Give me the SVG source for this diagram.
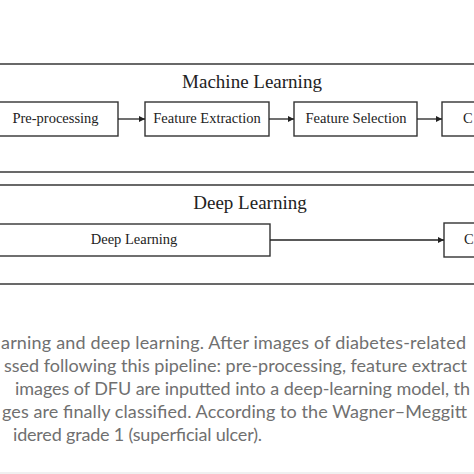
<svg xmlns="http://www.w3.org/2000/svg" width="474" height="474" viewBox="0 0 474 474">
<defs>
<marker id="arr" viewBox="0 0 10 10" refX="10" refY="5" markerWidth="9" markerHeight="6" markerUnits="userSpaceOnUse" orient="auto">
<path d="M0,0 L10,5 L0,10 z" fill="#222"/>
</marker>
<style>
.frame{fill:none;stroke:#444;stroke-width:1.6}
.box{fill:#fff;stroke:#333;stroke-width:1.4}
.lbl{font-family:"Liberation Serif","Times New Roman",serif;font-size:14.5px;fill:#222;text-anchor:middle}
.hdr{font-family:"Liberation Serif","Times New Roman",serif;font-size:19px;fill:#222;text-anchor:middle}
.cap{font-family:Lato,"Open Sans",sans-serif;font-size:18px;fill:#707070}
.con{stroke:#222;stroke-width:1.3;fill:none;marker-end:url(#arr)}
</style>
</defs>
<rect width="474" height="474" fill="#fff"/>
<rect x="0" y="472" width="474" height="2" fill="#f0f0f0"/>

<g id="ml-frame">
<rect class="frame" x="-10" y="64" width="494" height="108"/>
<text class="hdr" x="252" y="88">Machine Learning</text>
</g>
<g id="dl-frame">
<rect class="frame" x="-10" y="185" width="494" height="99"/>
<text class="hdr" x="250" y="209">Deep Learning</text>
</g>

<g id="preprocessing">
<rect class="box" x="-10" y="102" width="128" height="34"/>
<text class="lbl" x="55.5" y="123">Pre-processing</text>
</g>
<g id="feature-extraction">
<rect class="box" x="145" y="102" width="124" height="34"/>
<text class="lbl" x="207" y="123">Feature Extraction</text>
</g>
<g id="feature-selection">
<rect class="box" x="294" y="102" width="123" height="34"/>
<text class="lbl" x="356" y="123">Feature Selection</text>
</g>
<g id="classification-ml">
<rect class="box" x="442" y="102" width="60" height="34"/>
<text class="lbl" x="463" y="123" style="text-anchor:start">C</text>
</g>
<g id="deep-learning">
<rect class="box" x="-10" y="224" width="280" height="32"/>
<text class="lbl" x="134" y="244">Deep Learning</text>
</g>
<g id="classification-dl">
<rect class="box" x="444" y="223" width="60" height="34"/>
<text class="lbl" x="464" y="244" style="text-anchor:start">C</text>
</g>

<g id="connectors">
<line class="con" x1="118" y1="119" x2="145" y2="119"/>
<line class="con" x1="269" y1="119" x2="294" y2="119"/>
<line class="con" x1="417" y1="119" x2="442" y2="119"/>
<line class="con" x1="270" y1="240" x2="444" y2="240"/>
</g>

<g id="caption">
<text class="cap" x="1" y="349" textLength="465" lengthAdjust="spacing">arning and deep learning. After images of diabetes-related</text>
<text class="cap" x="4" y="372" textLength="463" lengthAdjust="spacing">ssed following this pipeline: pre-processing, feature extract</text>
<text class="cap" x="15" y="395" textLength="455" lengthAdjust="spacing">images of DFU are inputted into a deep-learning model, th</text>
<text class="cap" x="2" y="418" textLength="465" lengthAdjust="spacing">ges are finally classified. According to the Wagner–Meggitt</text>
<text class="cap" x="13" y="441" textLength="249" lengthAdjust="spacing">idered grade 1 (superficial ulcer).</text>
</g>
</svg>
